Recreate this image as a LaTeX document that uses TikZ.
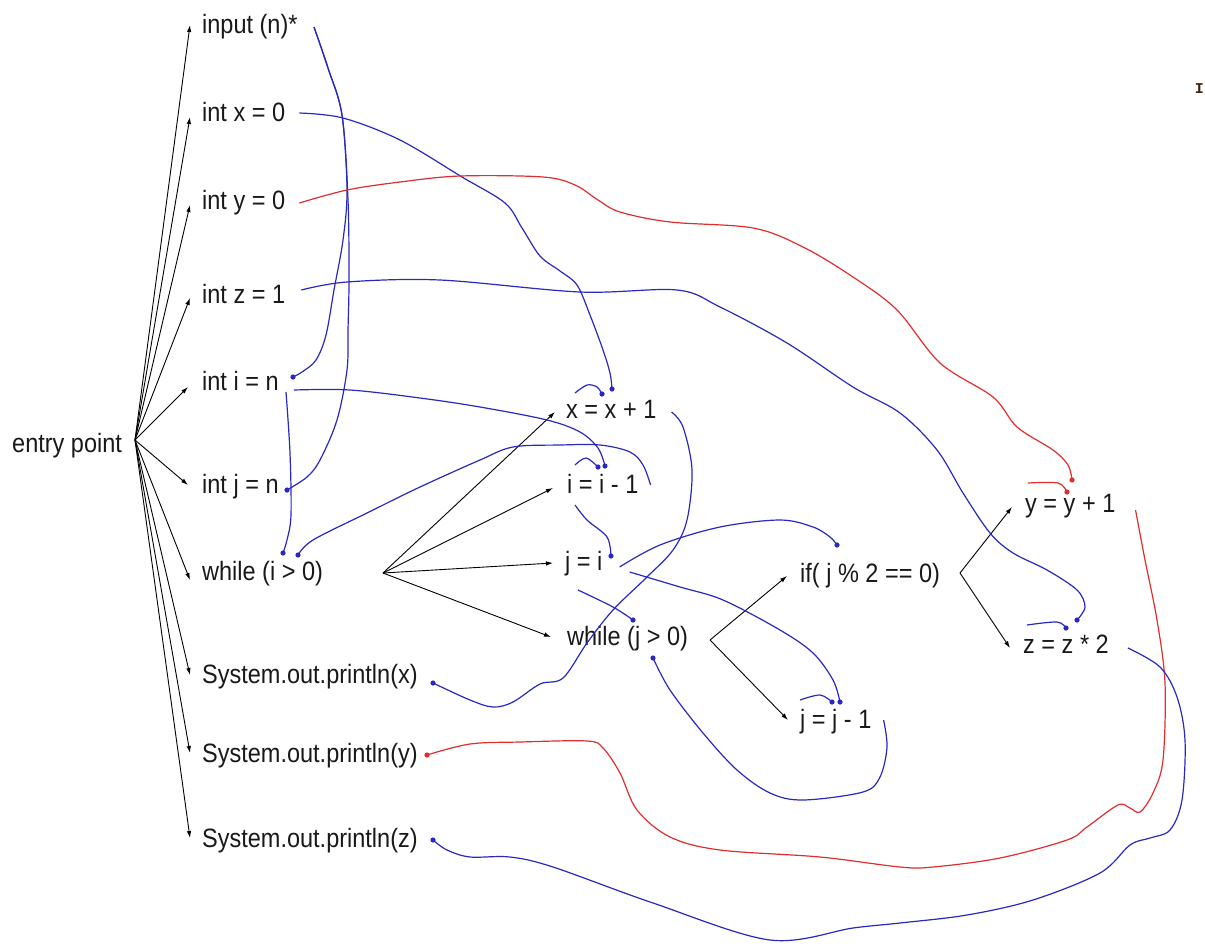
\documentclass[tikz,border=0pt]{standalone}
\usepackage{fontspec}
\setmainfont{Liberation Sans}
\newfontfamily\monof{Liberation Mono}
\usetikzlibrary{arrows.meta}
\definecolor{flowblue}{RGB}{40,40,195}
\definecolor{flowred}{RGB}{225,45,45}
\definecolor{txt}{RGB}{25,25,25}
\definecolor{fragc}{RGB}{60,35,10}
\newcommand\sy[1]{\scalebox{1}[1.13]{#1}}
\tikzset{
 lbl/.style={anchor=base west, inner sep=0pt, text=txt, font=\fontsize{23.5}{28}\selectfont},
 arr/.style={draw=black, line width=0.9pt, -{Latex[length=7pt,width=4.5pt]}},
 bflow/.style={draw=flowblue, line width=1.2pt},
 rflow/.style={draw=flowred, line width=1.2pt},
 sm/.style={smooth, tension=0.55},
 bdot/.style={fill=flowblue},
 rdot/.style={fill=flowred},
}
\begin{document}
\begin{tikzpicture}[x=1pt,y=-1pt]
\useasboundingbox (0,0) rectangle (1205,943);

% ---- nodes
\node[lbl] (entry) at (12,452) {\sy{entry point}};
\node[lbl] (inp) at (202,33) {\sy{input (n)*}};
\node[lbl] (ix) at (202,121) {\sy{int x = 0}};
\node[lbl] (iy) at (202,209) {\sy{int y = 0}};
\node[lbl] (iz) at (202,303) {\sy{int z = 1}};
\node[lbl] (ii) at (202,390) {\sy{int i = n}};
\node[lbl] (ij) at (202,493) {\sy{int j = n}};
\node[lbl] (wi) at (202,580) {\sy{while (i > 0)}};
\node[lbl] (px) at (202,683) {\sy{System.out.println(x)}};
\node[lbl] (py) at (202,762) {\sy{System.out.println(y)}};
\node[lbl] (pz) at (202,847) {\sy{System.out.println(z)}};
\node[lbl] (xx) at (566,418) {\sy{x = x + 1}};
\node[lbl] (dec) at (567,493) {\sy{i = i - 1}};
\node[lbl] (ji) at (565,570) {\sy{j = i}};
\node[lbl] (wj) at (567,645) {\sy{while (j > 0)}};
\node[lbl] (cond) at (800,582) {\sy{if( j \% 2 == 0)}};
\node[lbl] (jj) at (800,728) {\sy{j = j - 1}};
\node[lbl] (yy) at (1025,512) {\sy{y = y + 1}};
\node[lbl] (zz) at (1023,653) {\sy{z = z * 2}};
\node[anchor=base east, inner sep=0pt, text=fragc, font=\monof\bfseries\fontsize{15}{16}\selectfont] (frag) at (1204,93) {I};

% ---- control-flow fans
\coordinate (ef) at (135,440);
\draw[arr] (ef) -- ([shift={(-12,-8)}]inp.base west);
\draw[arr] (ef) -- ([shift={(-12,-4)}]ix.base west);
\draw[arr] (ef) -- ([shift={(-12,-4)}]iy.base west);
\draw[arr] (ef) -- ([shift={(-12,-5)}]iz.base west);
\draw[arr] (ef) -- ([shift={(-14,-3)}]ii.base west);
\draw[arr] (ef) -- ([shift={(-14,-8)}]ij.base west);
\draw[arr] (ef) -- ([shift={(-12,0)}]wi.base west);
\draw[arr] (ef) -- ([shift={(-12,-8)}]px.base west);
\draw[arr] (ef) -- ([shift={(-12,-9)}]py.base west);
\draw[arr] (ef) -- ([shift={(-12,-9)}]pz.base west);

\coordinate (wf) at (383,573);
\draw[arr] (wf) -- ([shift={(-11,-6)}]xx.base west);
\draw[arr] (wf) -- ([shift={(-14,-5)}]dec.base west);
\draw[arr] (wf) -- ([shift={(-12,-7)}]ji.base west);
\draw[arr] (wf) -- ([shift={(-16,-8)}]wj.base west);

\coordinate (jf) at (710,640);
\draw[arr] (jf) -- ([shift={(-13,-6)}]cond.base west);
\draw[arr] (jf) -- ([shift={(-12,-8)}]jj.base west);

\coordinate (cf) at (960,573);
\draw[arr] (cf) -- ([shift={(-13,-5)}]yy.base west);
\draw[arr] (cf) -- ([shift={(-13,-5)}]zz.base west);

% ---- data-flow end points
\coordinate (inpo) at (314,27);
\coordinate (d-ii) at (293,377);
\coordinate (d-ij) at (287,490);
\coordinate (iio1) at (286,392);
\coordinate (iio2) at (294,390);
\coordinate (d-wi1) at (283,553);
\coordinate (d-wi2) at (298,555);
\coordinate (d-dec1) at (598,467);
\coordinate (d-dec2) at (605,466);
\coordinate (d-xx1) at (602,394);
\coordinate (d-xx2) at (612,389);
\coordinate (d-ji) at (611,556);
\coordinate (d-wj1) at (633,620);
\coordinate (d-wj2) at (653,658);
\coordinate (d-cond) at (837,545);
\coordinate (d-jj1) at (832,702);
\coordinate (d-jj2) at (840,702);
\coordinate (d-yy1) at (1072,480);
\coordinate (d-yy2) at (1067,492);
\coordinate (d-zz1) at (1077,620);
\coordinate (d-zz2) at (1066,628);
\coordinate (d-px) at (433,683);
\coordinate (d-py) at (427,755);
\coordinate (d-pz) at (433,840);

% ---- data-flow curves
\draw[bflow] plot[sm] coordinates {(inpo) (328,68) (342,115) (347,190) (343,240) (334,290) (326,335) (316,360) (302,372) (d-ii)};
\draw[bflow] plot[sm] coordinates {(inpo) (328,68) (342,115) (348,200) (349,280) (348,330) (347,370) (337,420) (320,460) (307,477) (d-ij)};
\draw[bflow] plot[sm] coordinates {(iio1) (290,453) (291,515) (287,540) (d-wi1)};
\draw[bflow] plot[sm] coordinates {(iio2) (350,390) (420,398) (480,407) (547,420) (580,432) (598,448) (d-dec2)};
\draw[bflow] plot[sm] coordinates {([shift={(12,-8)}]dec.base east) (643,465) (630,452) (600,445) (560,445) (513,447) (480,460) (420,487) (367,513) (313,540) (d-wi2)};
\draw[bflow] plot[sm] coordinates {([shift={(14,-8)}]ix.base east) (343,118) (400,140) (462,177) (505,203) (522,228) (540,256) (560,271) (577,285) (590,315) (603,350) (610,373) (d-xx2)};
\draw[rflow] plot[sm] coordinates {([shift={(14,-6)}]iy.base east) (347,190) (400,182) (460,176) (543,177) (575,185) (598,200) (620,212) (670,222) (753,228) (803,247) (853,277) (897,310) (940,363) (993,397) (1017,427) (1053,450) (1068,465) (d-yy1)};
\draw[rflow] plot[sm] coordinates {(1028,483) (1058,483) (d-yy2)};
\draw[rflow] plot[sm] coordinates {([shift={(20,-2)}]yy.base east) (1145,560) (1157,620) (1165,683) (1163,760) (1153,793) (1140,812) (1130,808) (1118,805) (1087,827) (1067,840) (1000,858) (933,867) (900,867) (820,857) (720,850) (670,837) (637,810) (620,773) (603,748) (587,741) (520,742) (470,744) (d-py)};
\draw[bflow] plot[sm] coordinates {([shift={(16,-13)}]iz.base east) (347,282) (440,280) (580,292) (677,290) (720,307) (787,343) (853,387) (900,413) (937,450) (963,493) (990,533) (1013,553) (1047,570) (1077,590) (1085,607) (d-zz1)};
\draw[bflow] plot[sm] coordinates {(1027,625) (1057,622) (d-zz2)};
\draw[bflow] plot[sm] coordinates {([shift={(19,-5)}]zz.base east) (1160,667) (1177,697) (1185,740) (1182,800) (1170,830) (1150,838) (1130,845) (1100,873) (1033,900) (967,915) (900,923) (853,928) (770,940) (653,903) (553,867) (510,857) (470,857) (447,850) (d-pz)};
\draw[bflow] plot[sm] coordinates {(575,393) (587,385) (597,387) (d-xx1)};
\draw[bflow] plot[sm] coordinates {([shift={(15,-6)}]xx.base east) (683,427) (692,470) (687,520) (673,550) (647,577) (613,610) (587,643) (563,678) (540,684) (513,702) (493,707) (470,700) (d-px)};
\draw[bflow] plot[sm] coordinates {(575,465) (586,458) (d-dec1)};
\draw[bflow] plot[sm] coordinates {([shift={(8,12)}]dec.base west) (587,520) (607,537) (d-ji)};
\draw[bflow] plot[sm] coordinates {([shift={(17,-3)}]ji.base east) (660,545) (720,527) (780,520) (813,527) (830,537) (d-cond)};
\draw[bflow] plot[sm] coordinates {([shift={(27,2)}]ji.base east) (680,587) (723,600) (780,630) (813,653) (833,680) (d-jj2)};
\draw[bflow] plot[sm] coordinates {([shift={(13,20)}]ji.base west) (613,607) (d-wj1)};
\draw[bflow] plot[sm] coordinates {(800,700) (820,695) (d-jj1)};
\draw[bflow] plot[sm] coordinates {([shift={(12,-8)}]jj.base east) (887,747) (880,777) (863,792) (803,800) (770,793) (737,770) (703,733) (670,690) (d-wj2)};

% ---- dots
\foreach \p in {d-ii,d-ij,d-wi1,d-wi2,d-dec1,d-dec2,d-xx1,d-xx2,d-ji,d-wj1,d-wj2,d-cond,d-jj1,d-jj2,d-zz1,d-zz2,d-px,d-pz}
  \fill[bdot] (\p) circle (2.6pt);
\foreach \p in {d-yy1,d-yy2,d-py}
  \fill[rdot] (\p) circle (2.6pt);
\end{tikzpicture}
\end{document}
